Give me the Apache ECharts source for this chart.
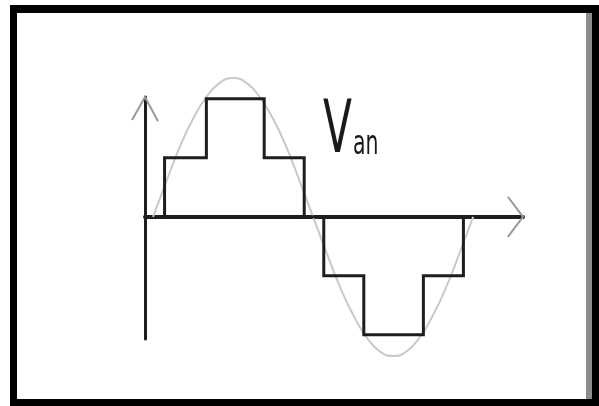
<!DOCTYPE html>
<html>
<head>
<meta charset="utf-8">
<script src="https://cdn.jsdelivr.net/npm/echarts@6/dist/echarts.min.js"></script>
<style>
html,body{margin:0;padding:0;background:#fff;}
#c{width:599px;height:406px;}
</style>
</head>
<body>
<div id="c"></div>
<script>
// Axis extents (x in electrical degrees, y in voltage levels)
var xMin = -9, xMax = 416;
var yMin = -2.07, yMax = 2.03;

// Staircase (stepped) output voltage: switching angles and the level after each
var stepAngles = [13, 60, 125, 170, 192, 237, 304, 349];
var stepLevels = [1, 2, 1, 0, -1, -2, -1, 0];

// Reference sine (every 15 degrees)
var sineAngles = [0,15,30,45,60,75,90,105,120,135,150,165,180,195,210,225,240,255,270,285,300,315,330,345,360];
var sineValues = [0,0.6,1.18,1.66,2.03,2.27,2.35,2.27,2.03,1.66,1.18,0.6,0,-0.6,-1.18,-1.66,-2.04,-2.28,-2.36,-2.28,-2.04,-1.66,-1.18,-0.6,0];

var labelMain = 'V', labelSub = 'an';

// build staircase points
var stair = [[stepAngles[0], 0]];
var prev = 0;
for (var i = 0; i < stepAngles.length; i++) {
  stair.push([stepAngles[i], prev]);
  stair.push([stepAngles[i], stepLevels[i]]);
  prev = stepLevels[i];
}
var sine = sineAngles.map(function (a, i) { return [a, sineValues[i]]; });

// open chevron arrowheads at the axis ends (data coordinates)
var yArrow = [[xMin - 14.6, yMax - 0.39], [xMin, yMax], [xMin + 14.6, yMax - 0.41]];
var xArrow = [[xMax - 17, 0.34], [xMax, 0], [xMax - 17, -0.34]];

var chart = echarts.init(document.getElementById('c'), null, {renderer: 'canvas'});
var baseGraphic = [
  {id: 'bg0', type: 'rect', z: -100, shape: {x: 10, y: 5, width: 589, height: 401}, style: {fill: '#000'}, silent: true},
  {id: 'bg1', type: 'rect', z: -99, shape: {x: 17, y: 13, width: 569, height: 386}, style: {fill: '#fff'}, silent: true},
  {id: 'bg2', type: 'rect', z: -99, shape: {x: 586, y: 13, width: 6, height: 386}, style: {fill: '#8c8c8c'}, silent: true},
  {id: 't1', type: 'text', z: 100, x: 323, y: 97, scaleX: 0.58,
    style: {text: labelMain, font: '73px "DejaVu Sans"', fill: '#1a1a1a', align: 'left', verticalAlign: 'top'}},
  {id: 't2', type: 'text', z: 100, x: 353, y: 129, scaleX: 0.62,
    style: {text: labelSub, font: '33px "DejaVu Sans"', fill: '#1a1a1a', align: 'left', verticalAlign: 'top'}}
];
chart.setOption({
  animation: false,
  backgroundColor: '#fff',
  grid: {left: 145, right: 76, top: 97, bottom: 67},
  xAxis: {
    type: 'value', min: xMin, max: xMax,
    axisLine: {show: true, onZero: true, lineStyle: {color: '#1e1e1e', width: 4}},
    axisTick: {show: false}, axisLabel: {show: false}, splitLine: {show: false}
  },
  yAxis: {
    type: 'value', min: yMin, max: yMax,
    axisLine: {show: true, onZero: false, lineStyle: {color: '#1e1e1e', width: 3}},
    axisTick: {show: false}, axisLabel: {show: false}, splitLine: {show: false}
  },
  graphic: baseGraphic,
  series: [
    {type: 'line', data: sine, smooth: true, showSymbol: false, clip: false, z: 1,
      lineStyle: {color: '#c9c9c9', width: 2}},
    {type: 'line', data: stair, showSymbol: false, clip: false, z: 3,
      lineStyle: {color: '#1e1e1e', width: 3, join: 'miter'}}
  ]
});

function toPx(p) { return chart.convertToPixel({gridIndex: 0}, p); }
chart.setOption({
  graphic: baseGraphic.concat([
    {id: 'ay', type: 'polyline', z: 50, shape: {points: yArrow.map(toPx)},
      style: {stroke: '#9a9a9a', lineWidth: 2, fill: null}},
    {id: 'ax', type: 'polyline', z: 50, shape: {points: xArrow.map(toPx)},
      style: {stroke: '#9a9a9a', lineWidth: 2, fill: null}}
  ])
});
</script>
</body>
</html>
